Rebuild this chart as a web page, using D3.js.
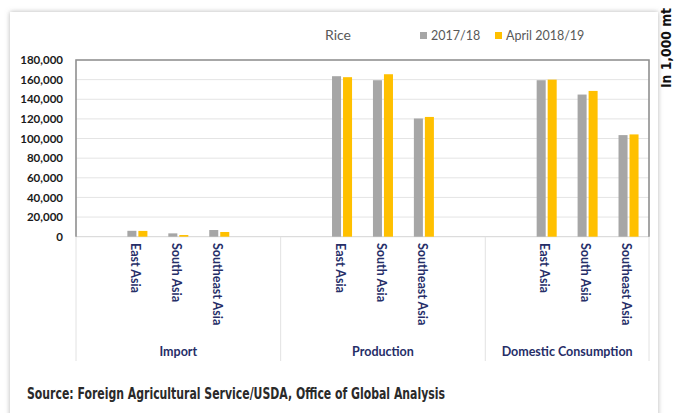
<!DOCTYPE html>
<html>
<head>
<meta charset="utf-8">
<script src="https://cdn.jsdelivr.net/npm/d3@7"></script>
<style>
  html, body { margin: 0; padding: 0; background: #fff; }
  svg { display: block; }
</style>
</head>
<body>
<div id="chart"></div>
<script>
const groups = ["Import", "Production", "Domestic Consumption"]
const regions = ["East Asia", "South Asia", "Southeast Asia"]
const seriesNames = ["2017/18", "April 2018/19"]
const colors = ["#a6a6a6", "#ffc000"]
// values in 1,000 mt, order: group by group, region by region
const values1718 = [6000, 3400, 6800, 163500, 159400, 120400, 159400, 144800, 103500]
const values1819 = [5900, 1700, 4800, 162500, 165500, 122000, 160000, 148500, 104200]
const yTicks = [0, 20000, 40000, 60000, 80000, 100000, 120000, 140000, 160000, 180000]

const width = 675, height = 413
const plot = {left: 76, right: 649, top: 60, bottom: 236.7}

// each group gets an empty slot before and after its regions (like the excel chart)
const slots = []
groups.forEach((g, gi) => {
  slots.push(g + "|pre")
  regions.forEach(r => slots.push(g + "|" + r))
  if (gi < groups.length - 1) slots.push(g + "|post")
})

const rows = []
groups.forEach((g, gi) => regions.forEach((r, ri) => {
  const i = gi * regions.length + ri
  rows.push({key: g + "|" + r, region: r, vals: [values1718[i], values1819[i]]})
}))

const x = d3.scaleBand().domain(slots).range([plot.left, plot.right])
const xInner = d3.scaleBand().domain(seriesNames).range([0, x.bandwidth()])
    .paddingInner(0.18).paddingOuter(0.95)
const y = d3.scaleLinear().domain([0, 180000]).range([plot.bottom, plot.top])

const svg = d3.select("#chart").append("svg")
    .attr("width", width)
    .attr("height", height)

const defs = svg.append("defs")
defs.append("filter").attr("id", "shadow")
    .attr("x", "-5%").attr("y", "-5%").attr("width", "110%").attr("height", "110%")
  .append("feDropShadow")
    .attr("dx", 0).attr("dy", 0).attr("stdDeviation", 2.5)
    .attr("flood-color", "#777").attr("flood-opacity", 0.55)

// card
svg.append("rect")
    .attr("x", 10).attr("y", 12)
    .attr("width", 648).attr("height", 430)
    .attr("fill", "#fff")
    .attr("filter", "url(#shadow)")

// gridlines
svg.append("g")
  .selectAll("line")
  .data(yTicks)
  .join("line")
    .attr("x1", plot.left).attr("x2", plot.right)
    .attr("y1", d => y(d)).attr("y2", d => y(d))
    .attr("stroke", d => d === 0 ? "#d4d4d4" : "#e4e4e4")
    .attr("stroke-width", 1)

// group separators under the axis
const bounds = [plot.left]
groups.forEach(g => {
  const last = slots.filter(s => s.startsWith(g + "|")).pop()
  bounds.push(x(last) + x.bandwidth())
})
svg.append("g")
  .selectAll("line")
  .data(bounds)
  .join("line")
    .attr("x1", d => d).attr("x2", d => d)
    .attr("y1", plot.bottom).attr("y2", 361)
    .attr("stroke", "#e2e2e2")
    .attr("stroke-width", 1)

// plot frame (left, top, right)
svg.append("path")
    .attr("d", `M${plot.left},${plot.bottom}V${plot.top}H${plot.right}V${plot.bottom}`)
    .attr("fill", "none")
    .attr("stroke", "#8f8f8f")
    .attr("stroke-width", 1.6)

// bars
svg.append("g")
  .selectAll("g")
  .data(rows)
  .join("g")
    .attr("transform", d => `translate(${x(d.key)},0)`)
  .selectAll("rect")
  .data(d => d.vals.map((v, i) => ({name: seriesNames[i], v, i})))
  .join("rect")
    .attr("x", d => xInner(d.name))
    .attr("width", xInner.bandwidth())
    .attr("y", d => y(d.v))
    .attr("height", d => y(0) - y(d.v))
    .attr("fill", d => colors[d.i])

// y axis labels
const yAxis = svg.append("g")
    .attr("transform", `translate(${plot.left},0)`)
    .call(d3.axisLeft(y).tickValues(yTicks).tickFormat(d3.format(",")).tickSize(0).tickPadding(13))
yAxis.select(".domain").remove()
yAxis.selectAll("text")
    .attr("font-family", "Lato, sans-serif")
    .attr("font-weight", "bold")
    .attr("font-size", 11.5)
    .attr("fill", "#1a1a1a")

// region labels, rotated
svg.append("g")
  .selectAll("text")
  .data(rows)
  .join("text")
    .attr("transform", d => `translate(${x(d.key) + x.bandwidth() / 2 - 2},243) rotate(90)`)
    .attr("dy", "0.35em")
    .attr("font-family", "Lato, sans-serif")
    .attr("font-weight", "bold")
    .attr("font-size", 12.5)
    .attr("fill", "#262e68")
    .text(d => d.region)

// group labels
svg.append("g")
  .selectAll("text")
  .data(groups)
  .join("text")
    .attr("x", (d, i) => (bounds[i] + bounds[i + 1]) / 2)
    .attr("y", 356)
    .attr("text-anchor", "middle")
    .attr("font-family", "Lato, sans-serif")
    .attr("font-weight", "bold")
    .attr("font-size", 12.5)
    .attr("fill", "#262e68")
    .text(d => d)

// title + legend
svg.append("text")
    .attr("x", 325).attr("y", 40)
    .attr("font-family", "Lato, sans-serif")
    .attr("font-size", 14)
    .attr("fill", "#595959")
    .text("Rice")

const legendX = [420, 495]
const legend = svg.append("g")
  .selectAll("g")
  .data(seriesNames)
  .join("g")
    .attr("transform", (d, i) => `translate(${legendX[i]},32)`)
legend.append("rect")
    .attr("width", 7).attr("height", 7)
    .attr("fill", (d, i) => colors[i])
legend.append("text")
    .attr("x", 11).attr("y", 8)
    .attr("font-family", "Lato, sans-serif")
    .attr("font-size", 12.5)
    .attr("fill", "#595959")
    .text(d => d)

// source
svg.append("text")
    .attr("x", 27).attr("y", 399)
    .attr("font-family", "'Liberation Sans Narrow', 'DejaVu Sans Condensed', sans-serif")
    .attr("font-weight", "bold")
    .attr("font-size", 16.5)
    .attr("textLength", 418)
    .attr("lengthAdjust", "spacingAndGlyphs")
    .attr("fill", "#2a2a2a")
    .text("Source: Foreign Agricultural Service/USDA, Office of Global Analysis")

// unit label on the right edge
svg.append("text")
    .attr("transform", "translate(671,88) rotate(-90)")
    .attr("font-family", "'Liberation Sans Narrow', 'DejaVu Sans Condensed', sans-serif")
    .attr("font-weight", "bold")
    .attr("font-size", 13.5)
    .attr("textLength", 80)
    .attr("lengthAdjust", "spacingAndGlyphs")
    .attr("fill", "#111")
    .text("In 1,000 mt")
</script>
</body>
</html>
